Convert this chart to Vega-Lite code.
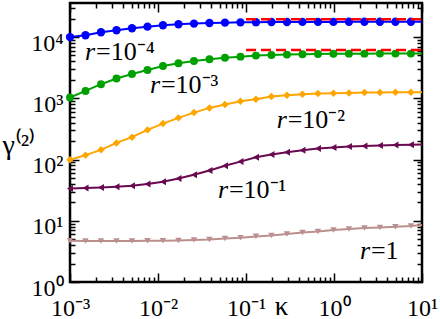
{
  "$schema": "https://vega.github.io/schema/vega-lite/v6.json",
  "autosize": {"type": "none"},
  "padding": {"left": 70, "top": 3, "right": 18, "bottom": 37},
  "width": 352,
  "height": 279,
  "background": "white",
  "config": {
    "view": {"stroke": "black", "strokeWidth": 2.5},
    "axis": {"grid": false, "domain": false, "tickColor": "black", "tickWidth": 1.5, "labelFont": "Liberation Serif", "labelFontSize": 24, "labelColor": "black", "titleFont": "Liberation Serif", "titleColor": "black", "titleFontWeight": "normal", "labelFlush": false, "labelOverlap": false, "labelBound": false}
  },
  "datasets": {
    "curves": [
      {"k": 0.001, "g": 10000, "s": "a"}, {"k": 0.0015, "g": 10700, "s": "a"}, {"k": 0.00225, "g": 12000, "s": "a"}, {"k": 0.003375, "g": 12900, "s": "a"}, {"k": 0.005063, "g": 13900, "s": "a"}, {"k": 0.007594, "g": 14800, "s": "a"}, {"k": 0.01139, "g": 15600, "s": "a"}, {"k": 0.01709, "g": 16200, "s": "a"}, {"k": 0.02563, "g": 16600, "s": "a"}, {"k": 0.03844, "g": 17000, "s": "a"}, {"k": 0.05767, "g": 17200, "s": "a"}, {"k": 0.0865, "g": 17400, "s": "a"}, {"k": 0.1297, "g": 17500, "s": "a"}, {"k": 0.1946, "g": 17600, "s": "a"}, {"k": 0.2919, "g": 17600, "s": "a"}, {"k": 0.4379, "g": 17700, "s": "a"}, {"k": 0.6568, "g": 17700, "s": "a"}, {"k": 0.9853, "g": 17700, "s": "a"}, {"k": 1.478, "g": 17800, "s": "a"}, {"k": 2.217, "g": 17800, "s": "a"}, {"k": 3.325, "g": 17800, "s": "a"}, {"k": 4.988, "g": 17800, "s": "a"}, {"k": 7.482, "g": 17800, "s": "a"}, {"k": 10, "g": 17800, "s": "a"},
      {"k": 0.001, "g": 1030, "s": "b"}, {"k": 0.0015, "g": 1320, "s": "b"}, {"k": 0.00225, "g": 1700, "s": "b"}, {"k": 0.003375, "g": 2100, "s": "b"}, {"k": 0.005063, "g": 2500, "s": "b"}, {"k": 0.007594, "g": 2900, "s": "b"}, {"k": 0.01139, "g": 3380, "s": "b"}, {"k": 0.01709, "g": 3740, "s": "b"}, {"k": 0.02563, "g": 4080, "s": "b"}, {"k": 0.03844, "g": 4350, "s": "b"}, {"k": 0.05767, "g": 4610, "s": "b"}, {"k": 0.0865, "g": 4790, "s": "b"}, {"k": 0.1297, "g": 4980, "s": "b"}, {"k": 0.1946, "g": 5100, "s": "b"}, {"k": 0.2919, "g": 5170, "s": "b"}, {"k": 0.4379, "g": 5240, "s": "b"}, {"k": 0.6568, "g": 5300, "s": "b"}, {"k": 0.9853, "g": 5340, "s": "b"}, {"k": 1.478, "g": 5360, "s": "b"}, {"k": 2.217, "g": 5360, "s": "b"}, {"k": 3.325, "g": 5370, "s": "b"}, {"k": 4.988, "g": 5370, "s": "b"}, {"k": 7.482, "g": 5370, "s": "b"}, {"k": 10, "g": 5370, "s": "b"},
      {"k": 0.001, "g": 99, "s": "c"}, {"k": 0.0015, "g": 118, "s": "c"}, {"k": 0.00225, "g": 144, "s": "c"}, {"k": 0.003375, "g": 187, "s": "c"}, {"k": 0.005063, "g": 232, "s": "c"}, {"k": 0.007594, "g": 305, "s": "c"}, {"k": 0.01139, "g": 386, "s": "c"}, {"k": 0.01709, "g": 479, "s": "c"}, {"k": 0.02563, "g": 584, "s": "c"}, {"k": 0.03844, "g": 697, "s": "c"}, {"k": 0.05767, "g": 789, "s": "c"}, {"k": 0.0865, "g": 897, "s": "c"}, {"k": 0.1297, "g": 967, "s": "c"}, {"k": 0.1946, "g": 1066, "s": "c"}, {"k": 0.2919, "g": 1124, "s": "c"}, {"k": 0.4379, "g": 1167, "s": "c"}, {"k": 0.6568, "g": 1194, "s": "c"}, {"k": 0.9853, "g": 1212, "s": "c"}, {"k": 1.478, "g": 1225, "s": "c"}, {"k": 2.217, "g": 1239, "s": "c"}, {"k": 3.325, "g": 1245, "s": "c"}, {"k": 4.988, "g": 1255, "s": "c"}, {"k": 7.482, "g": 1258, "s": "c"}, {"k": 10, "g": 1260, "s": "c"},
      {"k": 0.001, "g": 33.6, "s": "d"}, {"k": 0.0015, "g": 34.2, "s": "d"}, {"k": 0.00225, "g": 34.9, "s": "d"}, {"k": 0.003375, "g": 35.9, "s": "d"}, {"k": 0.005063, "g": 37.3, "s": "d"}, {"k": 0.007594, "g": 39.7, "s": "d"}, {"k": 0.01139, "g": 43.3, "s": "d"}, {"k": 0.01709, "g": 49.0, "s": "d"}, {"k": 0.02563, "g": 56.3, "s": "d"}, {"k": 0.03844, "g": 66.2, "s": "d"}, {"k": 0.05767, "g": 78.9, "s": "d"}, {"k": 0.0865, "g": 92.5, "s": "d"}, {"k": 0.1297, "g": 109, "s": "d"}, {"k": 0.1946, "g": 121, "s": "d"}, {"k": 0.2919, "g": 132, "s": "d"}, {"k": 0.4379, "g": 142, "s": "d"}, {"k": 0.6568, "g": 151, "s": "d"}, {"k": 0.9853, "g": 157, "s": "d"}, {"k": 1.478, "g": 163, "s": "d"}, {"k": 2.217, "g": 167, "s": "d"}, {"k": 3.325, "g": 169, "s": "d"}, {"k": 4.988, "g": 172, "s": "d"}, {"k": 7.482, "g": 174, "s": "d"}, {"k": 10, "g": 176, "s": "d"},
      {"k": 0.001, "g": 4.72, "s": "e"}, {"k": 0.0015, "g": 4.67, "s": "e"}, {"k": 0.00225, "g": 4.67, "s": "e"}, {"k": 0.003375, "g": 4.67, "s": "e"}, {"k": 0.005063, "g": 4.67, "s": "e"}, {"k": 0.007594, "g": 4.72, "s": "e"}, {"k": 0.01139, "g": 4.72, "s": "e"}, {"k": 0.01709, "g": 4.77, "s": "e"}, {"k": 0.02563, "g": 4.84, "s": "e"}, {"k": 0.03844, "g": 4.95, "s": "e"}, {"k": 0.05767, "g": 5.14, "s": "e"}, {"k": 0.0865, "g": 5.27, "s": "e"}, {"k": 0.1297, "g": 5.55, "s": "e"}, {"k": 0.1946, "g": 5.76, "s": "e"}, {"k": 0.2919, "g": 6.07, "s": "e"}, {"k": 0.4379, "g": 6.44, "s": "e"}, {"k": 0.6568, "g": 6.69, "s": "e"}, {"k": 0.9853, "g": 7.05, "s": "e"}, {"k": 1.478, "g": 7.32, "s": "e"}, {"k": 2.217, "g": 7.60, "s": "e"}, {"k": 3.325, "g": 7.78, "s": "e"}, {"k": 4.988, "g": 7.98, "s": "e"}, {"k": 7.482, "g": 8.20, "s": "e"}, {"k": 10, "g": 8.5, "s": "e"}
    ],
    "limits": [
      {"k": 0.1, "g": 19500, "s": "a"}, {"k": 10, "g": 19500, "s": "a"},
      {"k": 0.1, "g": 6150, "s": "b"}, {"k": 10, "g": 6150, "s": "b"}
    ],
    "labs": [
      {"k": 0.00148, "g": 4230, "t": "=10⁻⁴"},
      {"k": 0.0081, "g": 1211, "t": "=10⁻³"},
      {"k": 0.223, "g": 325, "t": "=10⁻²"},
      {"k": 0.048, "g": 23.7, "t": "=10⁻¹"},
      {"k": 1.97, "g": 2.4, "t": "=1"}
    ]
  },
  "layer": [
    {
      "data": {"name": "curves"},
      "mark": {"type": "line", "strokeWidth": 2},
      "encoding": {
        "x": {"field": "k", "type": "quantitative", "scale": {"type": "log", "domain": [0.001, 10], "nice": false},
          "axis": {"orient": "bottom", "values": [0.001, 0.01, 0.1, 1, 10], "tickSize": -9, "labelPadding": 42, "labelBaseline": "alphabetic", "labelAlign": "center",
            "labelExpr": "datum.value < 0.005 ? '10⁻³' : datum.value < 0.05 ? '10⁻²' : datum.value < 0.5 ? '10⁻¹' : datum.value < 5 ? '10⁰' : '10¹'",
            "title": "κ", "titleFontSize": 27, "titleX": 211, "titleY": 32, "titleBaseline": "alphabetic", "titleAlign": "center"}},
        "y": {"field": "g", "type": "quantitative", "scale": {"type": "log", "domain": [1, 36000], "nice": false},
          "axis": {"orient": "left", "values": [1, 10, 100, 1000, 10000], "tickSize": -9, "labelPadding": 16, "labelBaseline": "middle", "labelAlign": "right", "labelOffset": 6,
            "labelExpr": "datum.value < 5 ? '10⁰' : datum.value < 50 ? '10¹' : datum.value < 500 ? '10²' : datum.value < 5000 ? '10³' : '10⁴'",
            "title": "γ⁽²⁾", "titleFontSize": 28, "titleAngle": 0, "titleX": -68, "titleY": 150, "titleAlign": "left", "titleBaseline": "alphabetic"}},
        "color": {"field": "s", "type": "nominal", "legend": null, "scale": {"domain": ["a", "b", "c", "d", "e"], "range": ["#0000ff", "#00a000", "#ffa500", "#690a50", "#bc8f8f"]}},
        "detail": {"field": "s"}
      }
    },
    {
      "data": {"name": "curves"},
      "transform": [{"filter": "datum.k < 9"}],
      "mark": {"type": "point", "filled": true, "opacity": 1, "strokeWidth": 0},
      "encoding": {
        "x": {"field": "k", "type": "quantitative", "scale": {"type": "log", "domain": [0.001, 10], "nice": false},
          "axis": {"orient": "bottom", "values": [0.002, 0.003, 0.004, 0.005, 0.006, 0.007, 0.008, 0.009, 0.02, 0.03, 0.04, 0.05, 0.06, 0.07, 0.08, 0.09, 0.2, 0.3, 0.4, 0.5, 0.6, 0.7, 0.8, 0.9, 2, 3, 4, 5, 6, 7, 8, 9], "tickSize": -5, "labels": false, "title": null}},
        "y": {"field": "g", "type": "quantitative", "scale": {"type": "log", "domain": [1, 36000], "nice": false},
          "axis": {"orient": "left", "values": [2, 3, 4, 5, 6, 7, 8, 9, 20, 30, 40, 50, 60, 70, 80, 90, 200, 300, 400, 500, 600, 700, 800, 900, 2000, 3000, 4000, 5000, 6000, 7000, 8000, 9000, 20000, 30000], "tickSize": -5, "labels": false, "title": null}},
        "color": {"field": "s", "type": "nominal", "legend": null, "scale": {"domain": ["a", "b", "c", "d", "e"], "range": ["#0000ff", "#00a000", "#ffa500", "#690a50", "#bc8f8f"]}},
        "shape": {"field": "s", "type": "nominal", "legend": null, "scale": {"domain": ["a", "b", "c", "d", "e"], "range": ["circle", "circle", "diamond", "triangle-left", "triangle-down"]}},
        "size": {"field": "s", "type": "nominal", "legend": null, "scale": {"domain": ["a", "b", "c", "d", "e"], "range": [70, 42, 50, 50, 42]}}
      }
    },
    {
      "data": {"name": "limits"},
      "mark": {"type": "line", "color": "#ff0000", "strokeWidth": 2.5, "strokeDash": [10, 5]},
      "encoding": {
        "x": {"field": "k", "type": "quantitative", "scale": {"type": "log", "domain": [0.001, 10], "nice": false},
          "axis": {"orient": "top", "values": [0.001, 0.01, 0.1, 1, 10], "tickSize": -9, "labels": false, "title": null}},
        "y": {"field": "g", "type": "quantitative", "scale": {"type": "log", "domain": [1, 36000], "nice": false},
          "axis": {"orient": "right", "values": [1, 10, 100, 1000, 10000], "tickSize": -9, "labels": false, "title": null}},
        "detail": {"field": "s"}
      }
    },
    {
      "data": {"name": "labs"},
      "mark": {"type": "text", "text": "r", "font": "Liberation Serif", "fontSize": 26, "fontStyle": "italic", "align": "left", "baseline": "alphabetic", "color": "black"},
      "encoding": {
        "x": {"field": "k", "type": "quantitative", "scale": {"type": "log", "domain": [0.001, 10], "nice": false},
          "axis": {"orient": "top", "values": [0.002, 0.003, 0.004, 0.005, 0.006, 0.007, 0.008, 0.009, 0.02, 0.03, 0.04, 0.05, 0.06, 0.07, 0.08, 0.09, 0.2, 0.3, 0.4, 0.5, 0.6, 0.7, 0.8, 0.9, 2, 3, 4, 5, 6, 7, 8, 9], "tickSize": -5, "labels": false, "title": null}},
        "y": {"field": "g", "type": "quantitative", "scale": {"type": "log", "domain": [1, 36000], "nice": false},
          "axis": {"orient": "right", "values": [2, 3, 4, 5, 6, 7, 8, 9, 20, 30, 40, 50, 60, 70, 80, 90, 200, 300, 400, 500, 600, 700, 800, 900, 2000, 3000, 4000, 5000, 6000, 7000, 8000, 9000, 20000, 30000], "tickSize": -5, "labels": false, "title": null}}
      }
    },
    {
      "data": {"name": "labs"},
      "mark": {"type": "text", "font": "Liberation Serif", "fontSize": 26, "align": "left", "baseline": "alphabetic", "dx": 11, "color": "black"},
      "encoding": {
        "x": {"field": "k", "type": "quantitative", "scale": {"type": "log", "domain": [0.001, 10], "nice": false}, "axis": null},
        "y": {"field": "g", "type": "quantitative", "scale": {"type": "log", "domain": [1, 36000], "nice": false}, "axis": null},
        "text": {"field": "t"}
      }
    }
  ],
  "resolve": {"axis": {"x": "independent", "y": "independent"}}
}
